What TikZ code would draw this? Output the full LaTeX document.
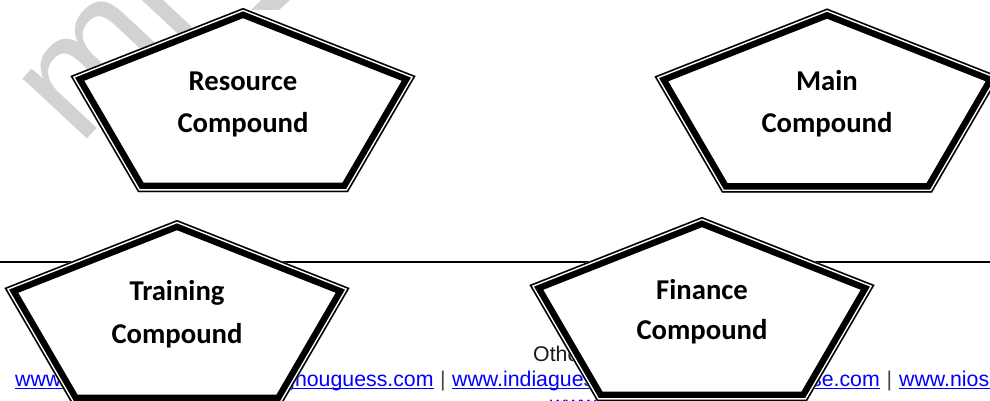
\documentclass[tikz,border=0pt]{standalone}
\usepackage{fontspec}
\setmainfont{Liberation Sans}
\newfontfamily\boxfont{Carlito}
\usetikzlibrary{calc}

\definecolor{linkblue}{RGB}{0,0,255}
\definecolor{wmgray}{RGB}{210,210,210}
\definecolor{sepgray}{RGB}{70,70,70}

% outline of one compound: apex at the origin, y grows downwards
\def\pentpath{(0,0) -- (172.5,68) -- (105,184) -- (-105,184) -- (-172.5,68) -- cycle}

% pentagon with a thin outer line, a white gap and a thick inner line
\newcommand\compoundbox[1]{%
  \begin{scope}[shift={#1}]
    \fill[white] \pentpath;
    \begin{scope}
      \clip \pentpath;
      \draw[black, line width=19] \pentpath;
      \draw[white, line width=6] \pentpath;
      \draw[black, line width=3] \pentpath;
    \end{scope}
  \end{scope}}

\tikzset{
  boxlabel/.style={font=\boxfont\bfseries\fontsize{28.7}{30}\selectfont,
                   anchor=base, inner sep=0},
  footertext/.style={font=\fontsize{21.3}{24}\selectfont, anchor=base west, inner sep=0},
  weblink/.style={footertext, text=linkblue},
  webrule/.style={draw=linkblue, line width=1.2},
  pipe/.style={footertext, anchor=base, text=sepgray},
}

\begin{document}
\begin{tikzpicture}[x=1pt, y=-1pt]
  \useasboundingbox (0,0) rectangle (990,401);
  \clip (0,0) rectangle (990,401);

  % faint diagonal watermark behind the first compound
  \node[font=\fontsize{167}{167}\selectfont, text=wmgray, rotate=47,
        anchor=base west, inner sep=0] (wm) at (79.5,148) {mr};
  \fill[wmgray] (251,10) -- (261,0) -- (290,0) -- (279,10) -- cycle;

  % horizontal rule across the page
  \coordinate (ruleL) at (0,262);
  \coordinate (ruleR) at (990,262);
  \draw[line width=1.5] (ruleL) -- (ruleR);

  % footer line
  \node[footertext, text=black!90] (other) at (533,361) {Other Websites:};

  \node[weblink] (l1) at (15,386) {www.examrace.com};
  \node[weblink] (l2) at (227.4,386) {www.ignouguess.com};
  \node[weblink] (l3) at (452,386) {www.indiaguess.com};
  \node[weblink, anchor=base east] (l4) at (880,386) {www.ncertcbse.com};
  \node[weblink] (l5) at (899,386) {www.nioscbse.com};
  \node[weblink] (l6) at (550,411) {www.flexiprep.com};
  \foreach \n in {l1,l2,l3,l4,l5,l6}
    \draw[webrule] ([yshift=-2.3pt]\n.base west) -- ([yshift=-2.3pt]\n.base east);

  \node[pipe] (p1) at ($(l1.base east)!0.5!(l2.base west)$) {|};
  \node[pipe] (p2) at ($(l2.base east)!0.5!(l3.base west)$) {|};
  \node[pipe] (p3) at ($(l3.base east)!0.5!(l4.base west)$) {|};
  \node[pipe] (p4) at ($(l4.base east)!0.5!(l5.base west)$) {|};

  % the four compounds
  \compoundbox{(243,8)}
  \node[boxlabel] (res1) at (243,91) {Resource};
  \node[boxlabel] (res2) at (243,132) {Compound};

  \compoundbox{(827,8.5)}
  \node[boxlabel] (main1) at (827,91) {Main};
  \node[boxlabel] (main2) at (827,132) {Compound};

  \compoundbox{(177,220)}
  \node[boxlabel] (tr1) at (177,300) {Training};
  \node[boxlabel] (tr2) at (177,343) {Compound};

  \compoundbox{(702,217)}
  \node[boxlabel] (fin1) at (702,299) {Finance};
  \node[boxlabel] (fin2) at (702,339) {Compound};
\end{tikzpicture}
\end{document}
